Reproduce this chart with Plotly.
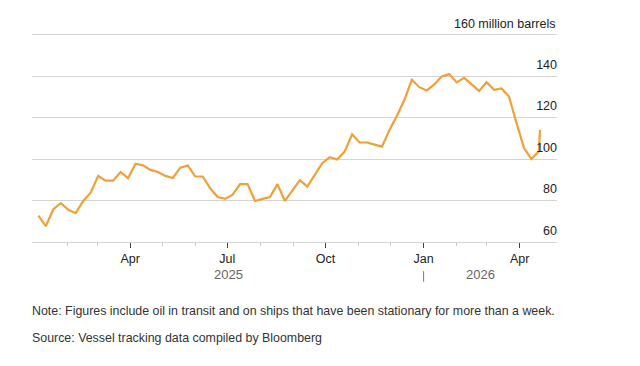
import pandas as pd
import plotly.graph_objects as go

# weekly readings (million barrels), plus one final latest reading
weekly_start = "2025-01-05"
values = [72.7, 67.7, 75.8, 78.7, 75.5, 73.9, 79.8, 83.8, 91.9, 89.6,
          89.6, 93.8, 90.8, 97.8, 97.0, 94.8, 93.8, 91.9, 90.9, 95.9,
          96.9, 91.6, 91.6, 85.9, 81.7, 80.8, 82.8, 87.9, 87.9, 79.8,
          80.8, 81.7, 87.9, 79.8, 84.8, 89.8, 86.7, 92.4, 98.0, 100.9,
          99.8, 103.6, 112.0, 108.0, 108.0, 107.0, 106.0, 114.1, 120.9, 128.6,
          138.3, 134.7, 133.1, 136.0, 139.9, 141.0, 137.0, 139.2, 136.2, 132.9,
          137.1, 133.4, 134.1, 130.2, 117.5, 105.4, 100.0, 103.6]
last_date = "2026-04-20"
last_value = 114.1

dates = list(pd.date_range(weekly_start, periods=len(values), freq="7D")) + [pd.Timestamp(last_date)]
all_values = values + [last_value]

y_ticks = [60, 80, 100, 120, 140, 160]
y_tick_text = ["60", "80", "100", "120", "140", ""]
top_tick_value = 160
top_tick_label = "160 million barrels"

major_ticks = ["2025-04-01", "2025-07-01", "2025-10-01", "2026-01-01", "2026-04-01"]
major_text = ["Apr", "Jul", "Oct", "Jan", "Apr"]
minor_ticks = ["2025-02-01", "2025-03-01", "2025-05-01", "2025-06-01", "2025-08-01",
               "2025-09-01", "2025-11-01", "2025-12-01", "2026-02-01", "2026-03-01"]
year_labels = [("2025-07-02", "2025"), ("2026-02-23", "2026")]
year_divider = "2026-01-01"

note = "Note: Figures include oil in transit and on ships that have been stationary for more than a week."
source = "Source: Vessel tracking data compiled by Bloomberg"

FONT = "Liberation Sans, Arial, sans-serif"

fig = go.Figure()
fig.add_trace(go.Scatter(x=dates, y=all_values, mode="lines",
                         line=dict(color="#f0a035", width=2.2),
                         hoverinfo="skip"))

fig.update_layout(
    width=632, height=358,
    margin=dict(l=24, r=83, t=6, b=124),
    paper_bgcolor="white", plot_bgcolor="white",
    showlegend=False,
    font=dict(family=FONT, size=12, color="#222"),
    xaxis=dict(
        type="date",
        range=["2024-12-30", "2026-05-06"],
        tickmode="array", tickvals=major_ticks, ticktext=major_text,
        ticks="outside", ticklen=5, tickcolor="#444", tickwidth=1,
        showgrid=False, zeroline=False,
        showline=True, linecolor="#d4d4d4", linewidth=1,
        ticklabeloverflow="allow",
        tickfont=dict(size=12.5, color="#222", family=FONT),
        minor=dict(tickmode="array", tickvals=minor_ticks, ticks="outside",
                   ticklen=3, tickcolor="#c8c8c8", tickwidth=1, showgrid=False),
    ),
    yaxis=dict(
        side="right",
        range=[60, 170],
        tickmode="array", tickvals=y_ticks, ticktext=y_tick_text,
        ticklabelposition="inside top",
        ticklabelshift=-3, ticklabelstandoff=-3,
        ticklabeloverflow="allow",
        showgrid=True, gridcolor="#d4d4d4", gridwidth=1,
        zeroline=False, showline=False, ticks="",
        tickfont=dict(size=12.5, color="#222", family=FONT),
    ),
)

fig.add_annotation(x=1, xref="paper", xanchor="right", y=top_tick_value, yref="y",
                   yanchor="bottom", yshift=2, text=top_tick_label, showarrow=False,
                   font=dict(size=12.5, color="#222", family=FONT))

for d, txt in year_labels:
    fig.add_annotation(x=d, xref="x", y=-0.142, yref="paper", text=txt,
                       showarrow=False, font=dict(size=13, color="#666", family=FONT),
                       yanchor="middle")

fig.add_shape(type="line", xref="x", yref="paper", x0=year_divider, x1=year_divider,
              y0=-0.128, y1=-0.174, line=dict(color="#777", width=1))

fig.add_annotation(x=0, xref="paper", xanchor="left", xshift=-2, y=-0.302, yref="paper",
                   text=note, showarrow=False, yanchor="middle",
                   font=dict(size=12.4, color="#333", family=FONT))
fig.add_annotation(x=0, xref="paper", xanchor="left", xshift=-2, y=-0.421, yref="paper",
                   text=source, showarrow=False, yanchor="middle",
                   font=dict(size=12.4, color="#333", family=FONT))

fig.write_html("out.html")
